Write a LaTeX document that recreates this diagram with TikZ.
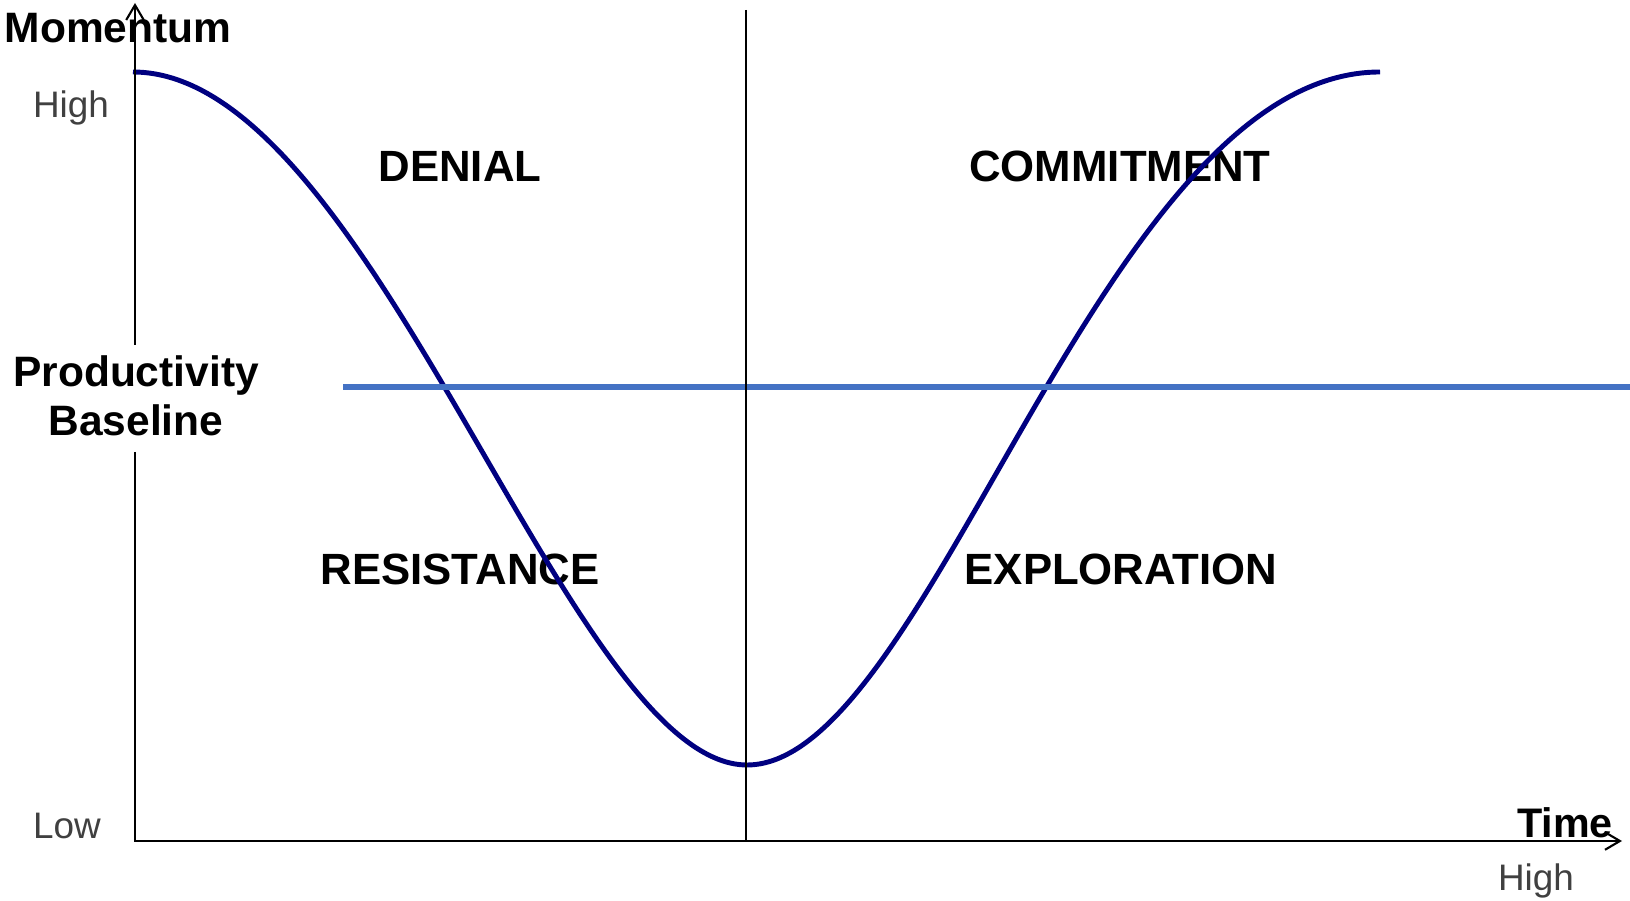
\documentclass[tikz,border=0pt]{standalone}
\usepackage{fontspec}
\setmainfont{Liberation Sans}
\usetikzlibrary{arrows.meta}
\definecolor{curvecol}{HTML}{000080}
\definecolor{basecol}{HTML}{4472C4}
\definecolor{graytxt}{HTML}{404040}
\begin{document}
\begin{tikzpicture}[x=0.02cm,y=-0.02cm,
  bigtxt/.style={font=\fontsize{24.2}{28}\selectfont\bfseries, inner sep=0, anchor=base},
  regiontxt/.style={font=\fontsize{24.9}{29}\selectfont\bfseries, inner sep=0, anchor=base},
  smalltxt/.style={font=\fontsize{21}{25}\selectfont, text=graytxt, inner sep=0, anchor=base},
  axisline/.style={draw=black, line width=1.15pt, -{Straight Barb[length=8.5pt,width=10pt,line width=1.2pt]}},
  divider/.style={draw=black, line width=0.9pt},
  baseline/.style={draw=basecol, line width=3.1pt},
  curveline/.style={draw=curvecol, line width=2.8pt}]
\useasboundingbox (0,0) rectangle (1630,901);
% texts
\node[bigtxt] (mom) at (118,43) {Momentum};
\node[smalltxt] (high) at (71,118) {High};
\node[smalltxt] (low) at (67,839) {Low};
\node[smalltxt] (highx) at (1536,890) {High};
\node[font=\fontsize{23.5}{28}\selectfont\bfseries, inner sep=0, anchor=base] (time) at (1565,837) {Time};
\node[bigtxt] (pb1) at (136,387) {Productivity};
\node[bigtxt] (pb2) at (136,436) {Baseline};
\node[regiontxt] (denial) at (460,182) {DENIAL};
\node[regiontxt] (commit) at (1120,182) {COMMITMENT};
\node[regiontxt] (resist) at (460,585) {RESISTANCE};
\node[regiontxt] (explore) at (1121,585) {EXPLORATION};
% coordinates
\coordinate (cstart) at (133,72);
\coordinate (cmin) at (747,765);
\coordinate (cend) at (1380,72);
\coordinate (blL) at (343,387);
\coordinate (blR) at (1630,387);
\coordinate (dTop) at (746,10);
\coordinate (dBot) at (746,841);
\coordinate (O) at (135,841);
\coordinate (ytop) at (135,3);
\coordinate (xend) at (1622,841);
\coordinate (gapLo) at (135,452);
\coordinate (gapHi) at (135,345);
% curve
\draw[curveline] (cstart) .. controls (373,72) and (568,765) .. (cmin)
  .. controls (930,765) and (1102,72) .. (cend);
% baseline
\draw[baseline] (blL) -- (blR);
% divider
\draw[divider] (dTop) -- (dBot);
% axes
\draw[axisline] (gapLo) -- (O) -- (xend);
\draw[axisline] (gapHi) -- (ytop);
\end{tikzpicture}
\end{document}
